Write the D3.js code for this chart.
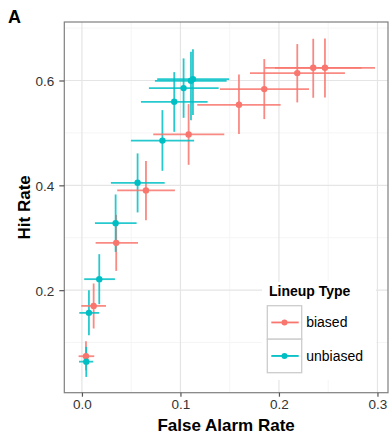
<!DOCTYPE html>
<html>
<head>
<meta charset="utf-8">
<script src="https://cdn.jsdelivr.net/npm/d3@7"></script>
<style>
  body { margin: 0; background: #fff; }
  svg { display: block; font-family: "Liberation Sans", Arial, sans-serif; }
</style>
</head>
<body>
<div id="chart"></div>
<script>
// biased lineups: false alarm rate / hit rate with intervals
const biasedFar = [0.0041, 0.0119, 0.0348, 0.065, 0.1083, 0.1594, 0.1851, 0.2186, 0.2348, 0.2467];
const biasedFarLo = [-0.0034, -0.0007, 0.0139, 0.0358, 0.0724, 0.1171, 0.1401, 0.1706, 0.1858, 0.1959];
const biasedFarHi = [0.0125, 0.0244, 0.0569, 0.0944, 0.1445, 0.2017, 0.2305, 0.267, 0.2839, 0.2975];
const biasedHit = [0.074, 0.17, 0.2903, 0.3903, 0.4971, 0.5536, 0.5836, 0.6141, 0.6242, 0.6242];
const biasedHitLo = [0.0473, 0.1269, 0.2368, 0.3336, 0.4391, 0.4977, 0.5263, 0.5582, 0.567, 0.5678];
const biasedHitHi = [0.1027, 0.2128, 0.3437, 0.4462, 0.555, 0.6116, 0.6408, 0.6695, 0.6796, 0.6803];

// unbiased lineups
const unbiasedFar = [0.0044, 0.0071, 0.0176, 0.0342, 0.0565, 0.0817, 0.0937, 0.1032, 0.1107, 0.1127];
const unbiasedFarLo = [-0.003, -0.0027, 0.0023, 0.0132, 0.0294, 0.0497, 0.0599, 0.068, 0.0741, 0.0764];
const unbiasedFarHi = [0.0115, 0.0176, 0.0335, 0.0555, 0.084, 0.1139, 0.1276, 0.1388, 0.1469, 0.1495];
const unbiasedHit = [0.0636, 0.1567, 0.221, 0.3279, 0.4048, 0.4853, 0.5594, 0.5855, 0.5994, 0.6027];
const unbiasedHitLo = [0.0345, 0.1141, 0.1733, 0.2731, 0.3483, 0.4277, 0.5021, 0.5288, 0.5244, 0.534];
const unbiasedHitHi = [0.0918, 0.2, 0.2687, 0.3826, 0.4609, 0.5435, 0.616, 0.6422, 0.6548, 0.6594];

const lineupTypes = ['biased', 'unbiased'];
const xTicks = [0, 0.1, 0.2, 0.3];
const xMinor = [0.05, 0.15, 0.25];
const yTicks = [0.2, 0.4, 0.6];
const yMinor = [0.1, 0.3, 0.5, 0.7];

const width = 389;
const height = 434;
const panel = {left: 64.3, right: 388, top: 22, bottom: 392.7};

const color = d3.scaleOrdinal().domain(lineupTypes).range(['#F8766D', '#00BFC4']);

const x = d3.scaleLinear().domain([-0.0179, 0.3107]).range([panel.left, panel.right]);
const y = d3.scaleLinear().domain([0.0044, 0.7116]).range([panel.bottom, panel.top]);

// build row objects per type
function rows(type, far, farLo, farHi, hit, hitLo, hitHi) {
  return far.map((d, i) => ({
    type: type, far: d, farLo: farLo[i], farHi: farHi[i],
    hit: hit[i], hitLo: hitLo[i], hitHi: hitHi[i]
  }));
}
const data = rows('biased', biasedFar, biasedFarLo, biasedFarHi, biasedHit, biasedHitLo, biasedHitHi)
  .concat(rows('unbiased', unbiasedFar, unbiasedFarLo, unbiasedFarHi, unbiasedHit, unbiasedHitLo, unbiasedHitHi));

const svg = d3.select('#chart').append('svg')
  .attr('width', width)
  .attr('height', height);

// panel background + grid
svg.append('rect')
  .attr('x', panel.left).attr('y', panel.top)
  .attr('width', panel.right - panel.left).attr('height', panel.bottom - panel.top)
  .attr('fill', '#fff');

const grid = svg.append('g');
grid.selectAll('.xminor').data(xMinor).enter().append('line')
  .attr('x1', d => x(d)).attr('x2', d => x(d))
  .attr('y1', panel.top).attr('y2', panel.bottom)
  .attr('stroke', '#f5f5f5').attr('stroke-width', 1);
grid.selectAll('.yminor').data(yMinor).enter().append('line')
  .attr('y1', d => y(d)).attr('y2', d => y(d))
  .attr('x1', panel.left).attr('x2', panel.right)
  .attr('stroke', '#f5f5f5').attr('stroke-width', 1);
grid.selectAll('.xmajor').data(xTicks).enter().append('line')
  .attr('x1', d => x(d)).attr('x2', d => x(d))
  .attr('y1', panel.top).attr('y2', panel.bottom)
  .attr('stroke', '#e5e5e5').attr('stroke-width', 1.2);
grid.selectAll('.ymajor').data(yTicks).enter().append('line')
  .attr('y1', d => y(d)).attr('y2', d => y(d))
  .attr('x1', panel.left).attr('x2', panel.right)
  .attr('stroke', '#e5e5e5').attr('stroke-width', 1.2);

// vertical error bars (hit rate interval)
svg.append('g').selectAll('line').data(data).enter().append('line')
  .attr('x1', d => x(d.far)).attr('x2', d => x(d.far))
  .attr('y1', d => y(d.hitLo)).attr('y2', d => y(d.hitHi))
  .attr('stroke', d => color(d.type))
  .attr('stroke-width', 1.8)
  .attr('stroke-opacity', 0.85);

// horizontal error bars (false alarm interval)
svg.append('g').selectAll('line').data(data).enter().append('line')
  .attr('y1', d => y(d.hit)).attr('y2', d => y(d.hit))
  .attr('x1', d => x(d.farLo)).attr('x2', d => x(d.farHi))
  .attr('stroke', d => color(d.type))
  .attr('stroke-width', 1.8)
  .attr('stroke-opacity', 0.85);

// points
svg.append('g').selectAll('circle').data(data).enter().append('circle')
  .attr('cx', d => x(d.far))
  .attr('cy', d => y(d.hit))
  .attr('r', 3.2)
  .attr('fill', d => color(d.type));

// panel border
svg.append('rect')
  .attr('x', panel.left).attr('y', panel.top)
  .attr('width', panel.right - panel.left).attr('height', panel.bottom - panel.top)
  .attr('fill', 'none').attr('stroke', '#7f7f7f').attr('stroke-width', 1.2);

// axes
const xAxis = svg.append('g')
  .attr('transform', 'translate(0,' + panel.bottom + ')')
  .call(d3.axisBottom(x).tickValues(xTicks).tickFormat(d3.format('.1f')).tickSize(4).tickPadding(3));
const yAxis = svg.append('g')
  .attr('transform', 'translate(' + panel.left + ',0)')
  .call(d3.axisLeft(y).tickValues(yTicks).tickFormat(d3.format('.1f')).tickSize(5).tickPadding(5));

[xAxis, yAxis].forEach(a => {
  a.select('.domain').remove();
  a.selectAll('.tick line').attr('stroke', '#555').attr('stroke-width', 1.2);
  a.selectAll('.tick text')
    .attr('fill', '#333')
    .attr('font-size', 13.5)
    .attr('font-family', '"Liberation Sans", Arial, sans-serif');
});
yAxis.selectAll('.tick text').attr('dy', '0.36em');

// axis titles
svg.append('text')
  .attr('x', (panel.left + panel.right) / 2)
  .attr('y', 431)
  .attr('text-anchor', 'middle')
  .attr('font-size', 17)
  .attr('font-weight', 'bold')
  .attr('fill', '#000')
  .text('False Alarm Rate');

svg.append('text')
  .attr('transform', 'translate(30,' + ((panel.top + panel.bottom) / 2) + ') rotate(-90)')
  .attr('text-anchor', 'middle')
  .attr('font-size', 17)
  .attr('font-weight', 'bold')
  .attr('fill', '#000')
  .text('Hit Rate');

// panel tag
svg.append('text')
  .attr('x', 8)
  .attr('y', 23.3)
  .attr('font-size', 18)
  .attr('font-weight', 'bold')
  .attr('fill', '#000')
  .text('A');

// legend
const legend = svg.append('g');
legend.append('rect')
  .attr('x', 262).attr('y', 282)
  .attr('width', 114).attr('height', 98)
  .attr('fill', '#fff');
legend.append('text')
  .attr('x', 269).attr('y', 296)
  .attr('font-size', 14)
  .attr('font-weight', 'bold')
  .attr('fill', '#000')
  .text('Lineup Type');

const keyW = 34.4;
const keyH = 33.5;
const item = legend.selectAll('.item').data(lineupTypes).enter().append('g')
  .attr('transform', (d, i) => 'translate(267.3,' + (305.7 + i * keyH) + ')');
item.append('rect')
  .attr('width', keyW).attr('height', keyH)
  .attr('fill', '#fff')
  .attr('stroke', '#cccccc').attr('stroke-width', 1.3);
item.append('line')
  .attr('x1', 4).attr('x2', keyW - 3)
  .attr('y1', keyH / 2).attr('y2', keyH / 2)
  .attr('stroke', d => color(d)).attr('stroke-width', 1.8);
item.append('circle')
  .attr('cx', keyW / 2).attr('cy', keyH / 2).attr('r', 3)
  .attr('fill', d => color(d));
item.append('text')
  .attr('x', keyW + 4.5).attr('y', keyH / 2)
  .attr('dy', '0.36em')
  .attr('font-size', 14)
  .attr('fill', '#000')
  .text(d => d);
</script>
</body>
</html>
